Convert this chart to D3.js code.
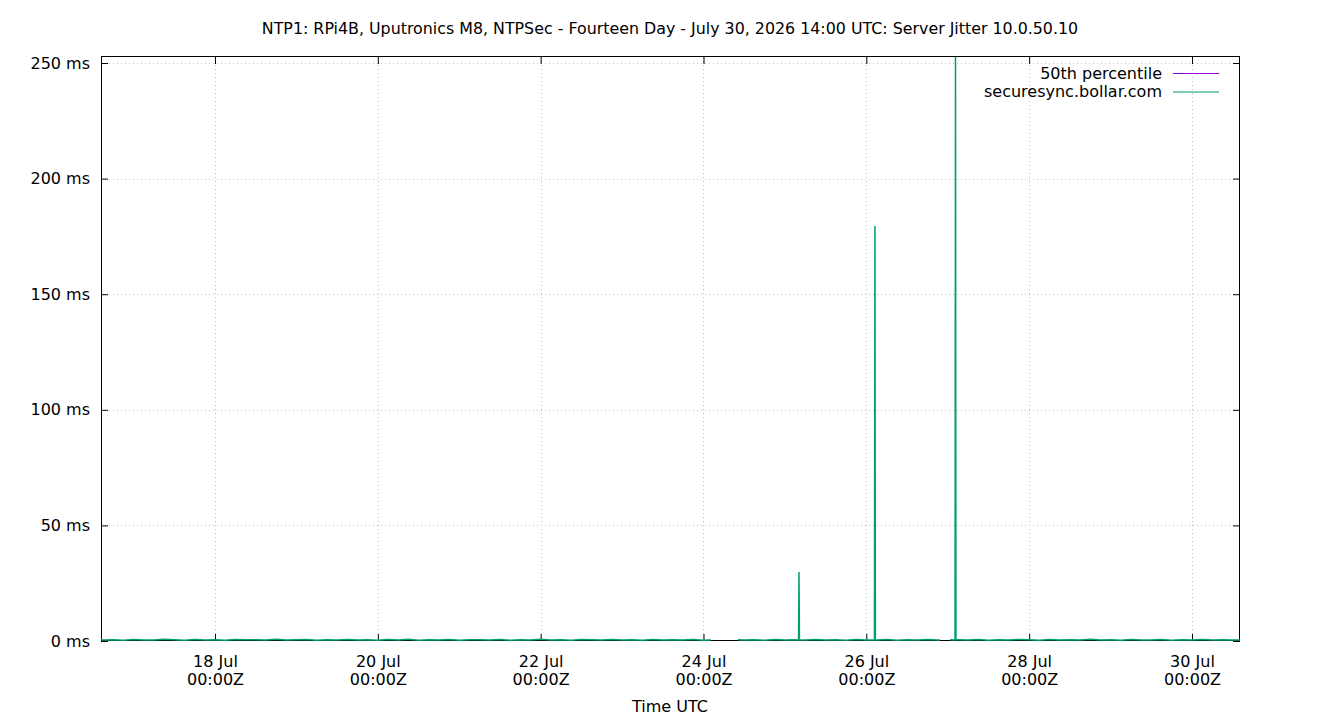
<!DOCTYPE html>
<html>
<head>
<meta charset="utf-8">
<script src="https://cdn.jsdelivr.net/npm/d3@7"></script>
<style>
  html, body { margin: 0; padding: 0; background: #fff; }
  text { font-family: "DejaVu Sans", sans-serif; fill: #000; }
</style>
</head>
<body>
<svg id="chart" width="1340" height="720"></svg>
<script>
// ---------------- DATA ----------------
const titleText = "NTP1: RPi4B, Uputronics M8, NTPSec - Fourteen Day - July 30, 2026 14:00 UTC: Server Jitter 10.0.50.10";
const seriesNames = ["50th percentile", "securesync.bollar.com"];

// Regular 3-hour samples of server jitter (ms), starting 2026-07-16 15:00 UTC (null = no data)
const sampleStart = "2026-07-16T15:00:00Z";
const sampleStepHours = 3;
const jitterSamples = [
  0.42, 0.55, 0.31, 0.68, 0.47, 0.39, 0.72, 0.51,
  0.36, 0.61, 0.44, 0.58, 0.29, 0.66, 0.49, 0.53,
  0.41, 0.75, 0.38, 0.52, 0.63, 0.34, 0.57, 0.46,
  0.69, 0.43, 0.55, 0.32, 0.60, 0.48, 0.71, 0.37,
  0.52, 0.45, 0.64, 0.30, 0.58, 0.50, 0.42, 0.67,
  0.35, 0.56, 0.47, 0.73, 0.40, 0.54, 0.33, 0.62,
  0.49, 0.38, 0.66, 0.44, 0.57, 0.31, 0.70, 0.46,
  0.53, 0.41, 0.60, 0.37, null, null, null, 0.48,
  0.55, 0.34, 0.63, 0.45, 0.59, 0.39, 0.68, 0.43,
  0.51, 0.36, 0.65, 0.47, 0.40, 0.61, 0.33, 0.56,
  0.44, 0.70, 0.38, null, 0.52, 0.46, 0.64, 0.35,
  0.58, 0.42, 0.67, 0.49, 0.31, 0.60, 0.45, 0.54,
  0.39, 0.72, 0.43, 0.57, 0.36, 0.63, 0.48, 0.41,
  0.66, 0.34, 0.55, 0.47, 0.69, 0.38, 0.52, 0.44
];

// Extra irregular samples: data edges, gap edges and spikes
const extraTimes = [
  "2026-07-16T14:24:00Z",
  "2026-07-24T02:12:00Z", "2026-07-24T10:10:00Z",
  "2026-07-25T04:01:00Z", "2026-07-25T04:09:00Z", "2026-07-25T04:17:00Z",
  "2026-07-26T02:24:00Z", "2026-07-26T02:32:00Z", "2026-07-26T02:40:00Z",
  "2026-07-26T21:42:00Z", "2026-07-27T00:39:00Z",
  "2026-07-27T02:09:00Z", "2026-07-27T02:17:00Z", "2026-07-27T02:25:00Z",
  "2026-07-30T14:09:00Z"
];
const extraValues = [
  0.50,
  0.45, 0.52,
  0.47, 29.8, 0.51,
  0.44, 179.5, 0.49,
  0.46, 0.53,
  0.42, 252.6, 0.50,
  0.48
];

// 50th percentile line (ms)
const pctTimes = ["2026-07-16T14:24:00Z", "2026-07-30T14:09:00Z"];
const pctValues = [0.02, 0.02];

const yTicks = [0, 50, 100, 150, 200, 250];
const xTickDates = ["2026-07-18T00:00:00Z", "2026-07-20T00:00:00Z", "2026-07-22T00:00:00Z",
  "2026-07-24T00:00:00Z", "2026-07-26T00:00:00Z", "2026-07-28T00:00:00Z", "2026-07-30T00:00:00Z"];
const yMax = 252.6;

// ---------------- BUILD ----------------
const t0 = new Date(sampleStart).getTime();
let jitter = jitterSamples.map((v, i) => ({ t: new Date(t0 + i * sampleStepHours * 3600e3), v }));
extraTimes.forEach((s, i) => jitter.push({ t: new Date(s), v: extraValues[i] }));
jitter.sort((a, b) => a.t - b.t);
const pct = pctTimes.map((s, i) => ({ t: new Date(s), v: pctValues[i] }));

const m = { left: 101, right: 1240, top: 57, bottom: 641 };
const svg = d3.select("#chart");
const FS = 16;

const x = d3.scaleUtc()
  .domain([new Date(extraTimes[0]), new Date(extraTimes[extraTimes.length - 1])])
  .range([m.left, m.right]);
const y = d3.scaleLinear().domain([0, yMax]).range([m.bottom, m.top]);

// grid
const grid = svg.append("g").attr("stroke", "#c0c0c0").attr("stroke-width", 1).attr("stroke-dasharray", "1,3");
yTicks.filter(d => d > 0).forEach(d => {
  grid.append("line").attr("x1", m.left).attr("x2", m.right)
    .attr("y1", Math.round(y(d)) + 0.5).attr("y2", Math.round(y(d)) + 0.5);
});
xTickDates.forEach(s => {
  const xx = Math.round(x(new Date(s))) + 0.5;
  grid.append("line").attr("x1", xx).attr("x2", xx).attr("y1", m.top).attr("y2", m.bottom);
});

// axes via d3
const yAxisL = d3.axisLeft(y).tickValues(yTicks).tickSizeInner(-7).tickSizeOuter(0).tickPadding(11).tickFormat(d => d + " ms");
const gy = svg.append("g").attr("transform", `translate(${m.left},0)`).call(yAxisL);
gy.select(".domain").remove();
gy.selectAll("text").attr("font-size", FS).attr("font-family", "DejaVu Sans").attr("fill", "#000");
gy.selectAll("line").attr("stroke", "#000");

const yAxisR = d3.axisRight(y).tickValues(yTicks).tickSizeInner(-7).tickSizeOuter(0).tickFormat("");
const gyr = svg.append("g").attr("transform", `translate(${m.right},0)`).call(yAxisR);
gyr.select(".domain").remove();
gyr.selectAll("line").attr("stroke", "#000");

const xAxisB = d3.axisBottom(x).tickValues(xTickDates.map(s => new Date(s))).tickSizeInner(-7).tickSizeOuter(0).tickFormat("");
const gx = svg.append("g").attr("transform", `translate(0,${m.bottom})`).call(xAxisB);
gx.select(".domain").remove();
gx.selectAll("line").attr("stroke", "#000");
const fmtDay = d3.utcFormat("%d %b");
const fmtTime = d3.utcFormat("%H:%MZ");
gx.selectAll(".tick").each(function (d) {
  const g = d3.select(this);
  g.append("text").attr("y", 666.5 - m.bottom).attr("text-anchor", "middle").attr("font-size", FS).text(fmtDay(d));
  g.append("text").attr("y", 684.5 - m.bottom).attr("text-anchor", "middle").attr("font-size", FS).text(fmtTime(d));
});

const xAxisT = d3.axisTop(x).tickValues(xTickDates.map(s => new Date(s))).tickSizeInner(-7).tickSizeOuter(0).tickFormat("");
const gxt = svg.append("g").attr("transform", `translate(0,${m.top})`).call(xAxisT);
gxt.select(".domain").remove();
gxt.selectAll("line").attr("stroke", "#000");

// border
svg.append("rect").attr("x", m.left + 0.5).attr("y", m.top - 0.5)
  .attr("width", m.right - m.left - 1).attr("height", m.bottom - m.top)
  .attr("fill", "none").attr("stroke", "#000").attr("stroke-width", 1);

// clip + data on top of border
svg.append("clipPath").attr("id", "clip").append("rect")
  .attr("x", m.left).attr("y", m.top).attr("width", m.right - m.left).attr("height", m.bottom - m.top + 1);

const line = d3.line().defined(d => d.v !== null).x(d => x(d.t)).y(d => y(d.v));
const plot = svg.append("g").attr("clip-path", "url(#clip)");
plot.append("path").datum(pct).attr("d", line).attr("fill", "none").attr("stroke", "#9400d3").attr("stroke-width", 1).attr("stroke-opacity", 0);
plot.append("path").datum(jitter).attr("d", line).attr("fill", "none").attr("stroke", "#009e73").attr("stroke-width", 1.5);

// title / labels
svg.append("text").attr("x", 670).attr("y", 33.5).attr("text-anchor", "middle").attr("font-size", 15.85).text(titleText);
svg.append("text").attr("x", 670).attr("y", 711.5).attr("text-anchor", "middle").attr("font-size", FS).text("Time UTC");

// legend
const legColors = ["#9400d3", "#009e73"];
seriesNames.forEach((n, i) => {
  const yy = 73 + i * 18.5;
  svg.append("text").attr("x", 1162).attr("y", yy + 5.5).attr("text-anchor", "end").attr("font-size", FS).text(n);
  svg.append("line").attr("x1", 1173).attr("x2", 1219).attr("y1", yy + 0.5).attr("y2", yy + 0.5)
    .attr("stroke", legColors[i]).attr("stroke-width", 1);
});
</script>
</body>
</html>
